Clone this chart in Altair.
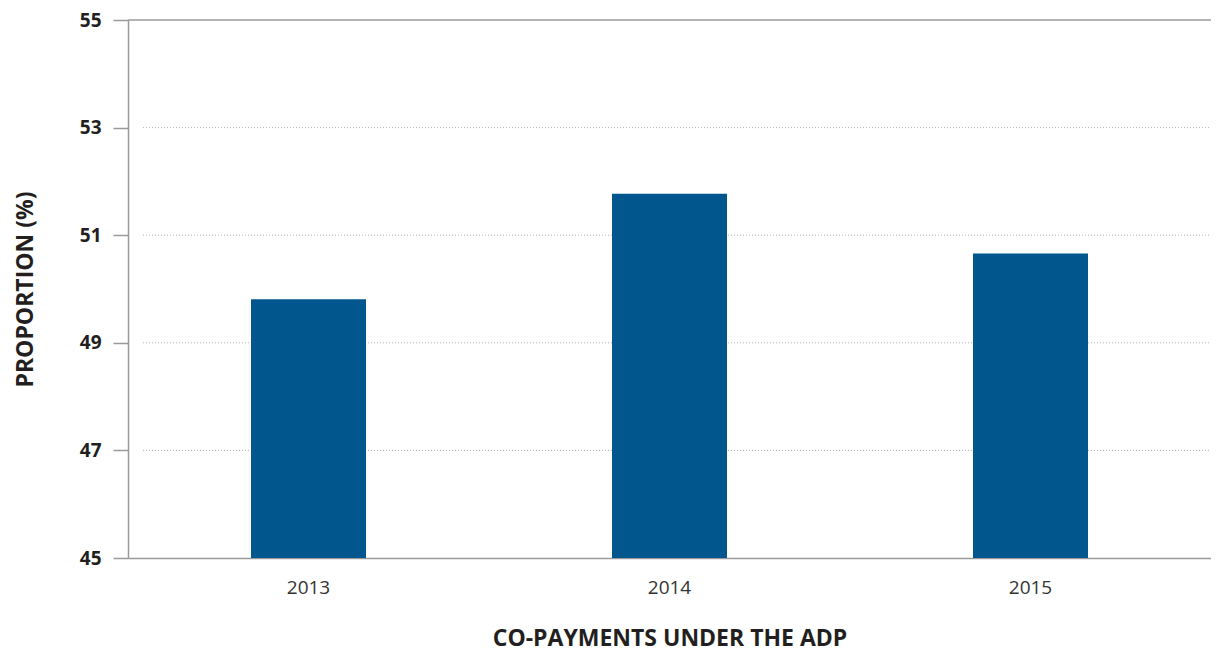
import altair as alt
import pandas as pd

years = ["2013", "2014", "2015"]
values = [49.81, 51.77, 50.66]
grid_values = [47, 49, 51, 53]
top_value = [55]
base_value = 45

bars_df = pd.DataFrame({"year": years, "value": values})
grid_df = pd.DataFrame({"v": grid_values})
top_df = pd.DataFrame({"v": top_value})

W, H = 1083, 538
yscale = alt.Scale(domain=[45, 55], nice=False, zero=False)

bars = alt.Chart(bars_df).mark_bar(size=115, color="#02568e").encode(
    x=alt.X("year:N", sort=years, title="CO-PAYMENTS UNDER THE ADP",
            scale=alt.Scale(paddingInner=0, paddingOuter=0),
            axis=alt.Axis(labelAngle=0, ticks=False, labelFont="Open Sans",
                          labelFontSize=19, labelColor="#333333", labelPadding=20,
                          domainColor="#9a9a9a", domainWidth=1.5,
                          titleFont="Open Sans", titleFontSize=23, titleFontWeight="bold",
                          titleColor="#231f20", titlePadding=30)),
    y=alt.Y("value:Q", scale=yscale, title="PROPORTION (%)",
            axis=alt.Axis(values=[45, 47, 49, 51, 53, 55], grid=False,
                          labelFont="Open Sans", labelFontSize=19, labelFontWeight="bold",
                          labelColor="#231f20", labelPadding=12,
                          tickSize=15, tickColor="#9a9a9a", tickWidth=1.5,
                          domainColor="#9a9a9a", domainWidth=1.5,
                          titleFont="Open Sans", titleFontSize=23, titleFontWeight="bold",
                          titleColor="#231f20", titlePadding=42)),
    y2=alt.datum(base_value),
)

grid = alt.Chart(grid_df).mark_rule(color="#b5b5b5", strokeDash=[1, 2], strokeWidth=1).encode(
    y=alt.Y("v:Q", scale=yscale),
    x=alt.value(15), x2=alt.value(W - 2),
)

top = alt.Chart(top_df).mark_rule(color="#9a9a9a", strokeWidth=1.5).encode(
    y=alt.Y("v:Q", scale=yscale),
    x=alt.value(0), x2=alt.value(W),
)

chart = alt.layer(grid, top, bars).properties(
    width=W, height=H,
    autosize=alt.AutoSizeParams(type="none"),
    padding={"left": 120, "top": 12, "right": 0, "bottom": 94},
).configure_view(stroke=None)

chart.save("out.html", embed_options={"renderer": "svg", "actions": False})
